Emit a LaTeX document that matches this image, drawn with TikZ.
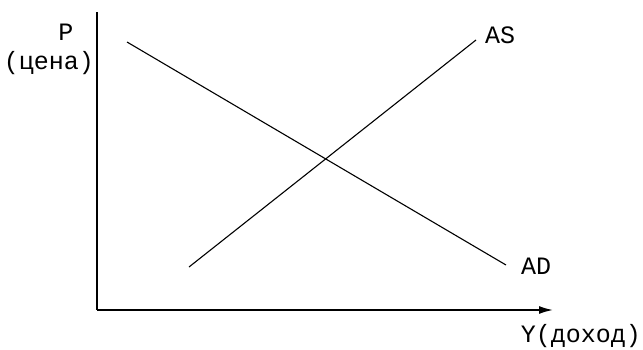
\documentclass[tikz,border=0pt]{standalone}
\usepackage{fontspec}
\setmonofont{Liberation Mono}
\usetikzlibrary{arrows.meta}

\begin{document}
\begin{tikzpicture}[x=1pt, y=-1pt,
  axisline/.style={line width=1.6pt, black},
  curveline/.style={line width=1.1pt, black},
  lbl/.style={font=\fontsize{25}{27}\selectfont\ttfamily, inner sep=0pt}]
\useasboundingbox (0,0) rectangle (643,349);
% axes
\coordinate (origin) at (97,310);
\coordinate (ytop) at (97,12);
\coordinate (xend) at (553,310);
\draw[axisline] (ytop) -- (origin);
\draw[axisline, -{Latex[length=14pt, width=8pt]}] (origin) -- (xend);
\node[lbl] (plbl) at (66,32) {P};
\node[lbl] (pricelbl) at (49,63) {(цена)};
\node[lbl] (ylbl) at (581,336) {Y(доход)};
% AD and AS lines
\coordinate (ad1) at (127,42);
\coordinate (ad2) at (506,265);
\coordinate (as1) at (189,267);
\coordinate (as2) at (476,40);
\draw[curveline] (ad1) -- (ad2);
\draw[curveline] (as1) -- (as2);
\node[lbl] (aslbl) at (500,35) {AS};
\node[lbl] (adlbl) at (536,266) {AD};
\end{tikzpicture}
\end{document}
